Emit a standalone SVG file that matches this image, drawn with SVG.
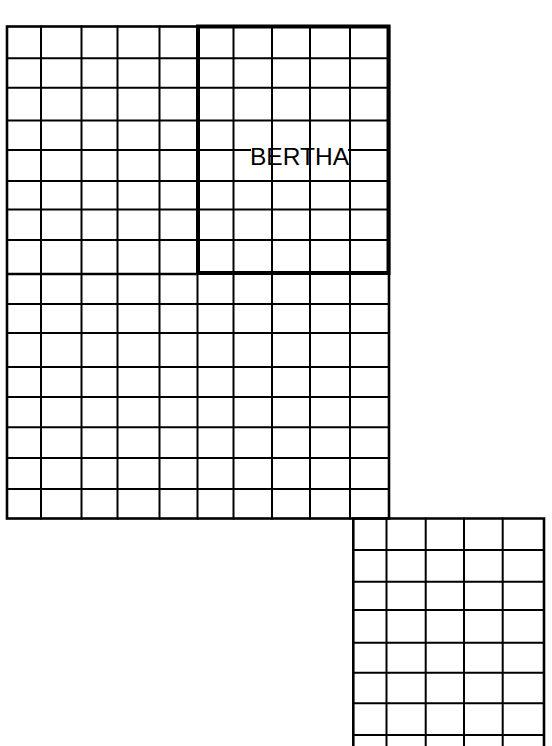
<svg xmlns="http://www.w3.org/2000/svg" width="552" height="746" viewBox="0 0 552 746">
<style>
.g{stroke:#000;stroke-width:2;fill:none;stroke-linecap:square}
.o{stroke:#000;stroke-width:2.6;fill:none}
.b{stroke:#000;stroke-width:4;fill:none}
.t{font-family:"Liberation Sans","DejaVu Sans",sans-serif;font-size:24px;fill:#000}
</style>
<rect width="552" height="746" fill="#fff"/>
<g id="main-grid">
<path class="g" d="M41,26.5V518.5M81.5,26.5V518.5M117.5,26.5V518.5M159.5,26.5V518.5M197.5,26.5V518.5M233.5,26.5V518.5M272,26.5V518.5M310,26.5V518.5M350,26.5V518.5"/>
<path class="g" d="M7,58.3H389M7,87.8H389M7,120.5H389M7,150H250M349,150H389M7,181H389M7,209.5H389M7,240H389M7,274H389M7,304H389M7,333H389M7,367H389M7,397H389M7,427.3H389M7,458H389M7,489H389"/>
<path class="o" d="M7,274H198"/>
<rect class="o" x="7" y="26.5" width="382" height="492"/>
</g>
<g id="bertha">
<rect class="b" x="198" y="26.5" width="190.5" height="246.5"/>
<text class="t" x="250" y="165" textLength="99" lengthAdjust="spacingAndGlyphs">BERTHA</text>
</g>
<g id="small-grid">
<path class="g" d="M386.5,518.5V746M425.7,518.5V746M464,518.5V746M502.7,518.5V746"/>
<path class="g" d="M353.3,550H544M353.3,581.7H544M353.3,610H544M353.3,642.7H544M353.3,672.7H544M353.3,703.3H544M353.3,735H544"/>
<path class="o" d="M353.3,747V518.5H544V747"/>
</g>
</svg>
